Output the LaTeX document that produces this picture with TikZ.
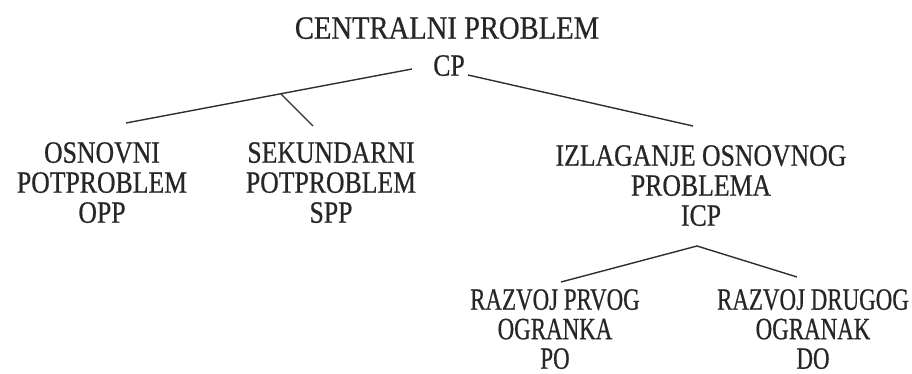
\documentclass[tikz,border=0pt]{standalone}
\usepackage{fontspec}
\setmainfont{Liberation Serif}[FakeStretch=0.83]
\newfontfamily\fTitle{Liberation Serif}[FakeStretch=0.88,FakeBold=0.6]
\newfontfamily\fMid{Liberation Serif}[FakeStretch=0.83,FakeBold=0.6]
\newfontfamily\fLow{Liberation Serif}[FakeStretch=0.74,FakeBold=0.6]
\begin{document}
\begin{tikzpicture}[x=1pt,y=-1pt,
  lbl/.style={anchor=north,inner sep=0pt,align=center,text=black!85,
    font=\fMid\fontsize{31}{30}\selectfont},
  ttl/.style={lbl,font=\fTitle\fontsize{32.5}{30}\selectfont},
  low/.style={lbl,font=\fLow\fontsize{31}{29.5}\selectfont},
  conn/.style={line width=1.4pt,draw=black!82}]
\useasboundingbox (0,0) rectangle (912,374);
\node[ttl] (title) at (447,17) {CENTRALNI PROBLEM};
\node[lbl] (cp) at (449,55) {CP};
\node[lbl] (opp) at (102,142) {OSNOVNI\\POTPROBLEM\\OPP};
\node[lbl] (spp) at (331,142) {SEKUNDARNI\\POTPROBLEM\\SPP};
\node[lbl] (icp) at (701,145) {IZLAGANJE OSNOVNOG\\PROBLEMA\\ICP};
\node[low] (po) at (555,289) {RAZVOJ PRVOG\\OGRANKA\\PO};
\node[low] (do) at (813,289) {RAZVOJ DRUGOG\\OGRANAK\\DO};
% connector end points
\coordinate (cpL) at (412,69);
\coordinate (cpR) at (468,75);
\coordinate (oppT) at (126,123);
\coordinate (junc) at (281,94);
\coordinate (sppT) at (313,126);
\coordinate (icpT) at (693,126);
\coordinate (icpB) at (697,246);
\coordinate (poT) at (561,282);
\coordinate (doT) at (797,277);
\draw[conn] (cpL) -- (oppT);
\draw[conn] (junc) -- (sppT);
\draw[conn] (cpR) -- (icpT);
\draw[conn] (icpB) -- (poT);
\draw[conn] (icpB) -- (doT);
\end{tikzpicture}
\end{document}
